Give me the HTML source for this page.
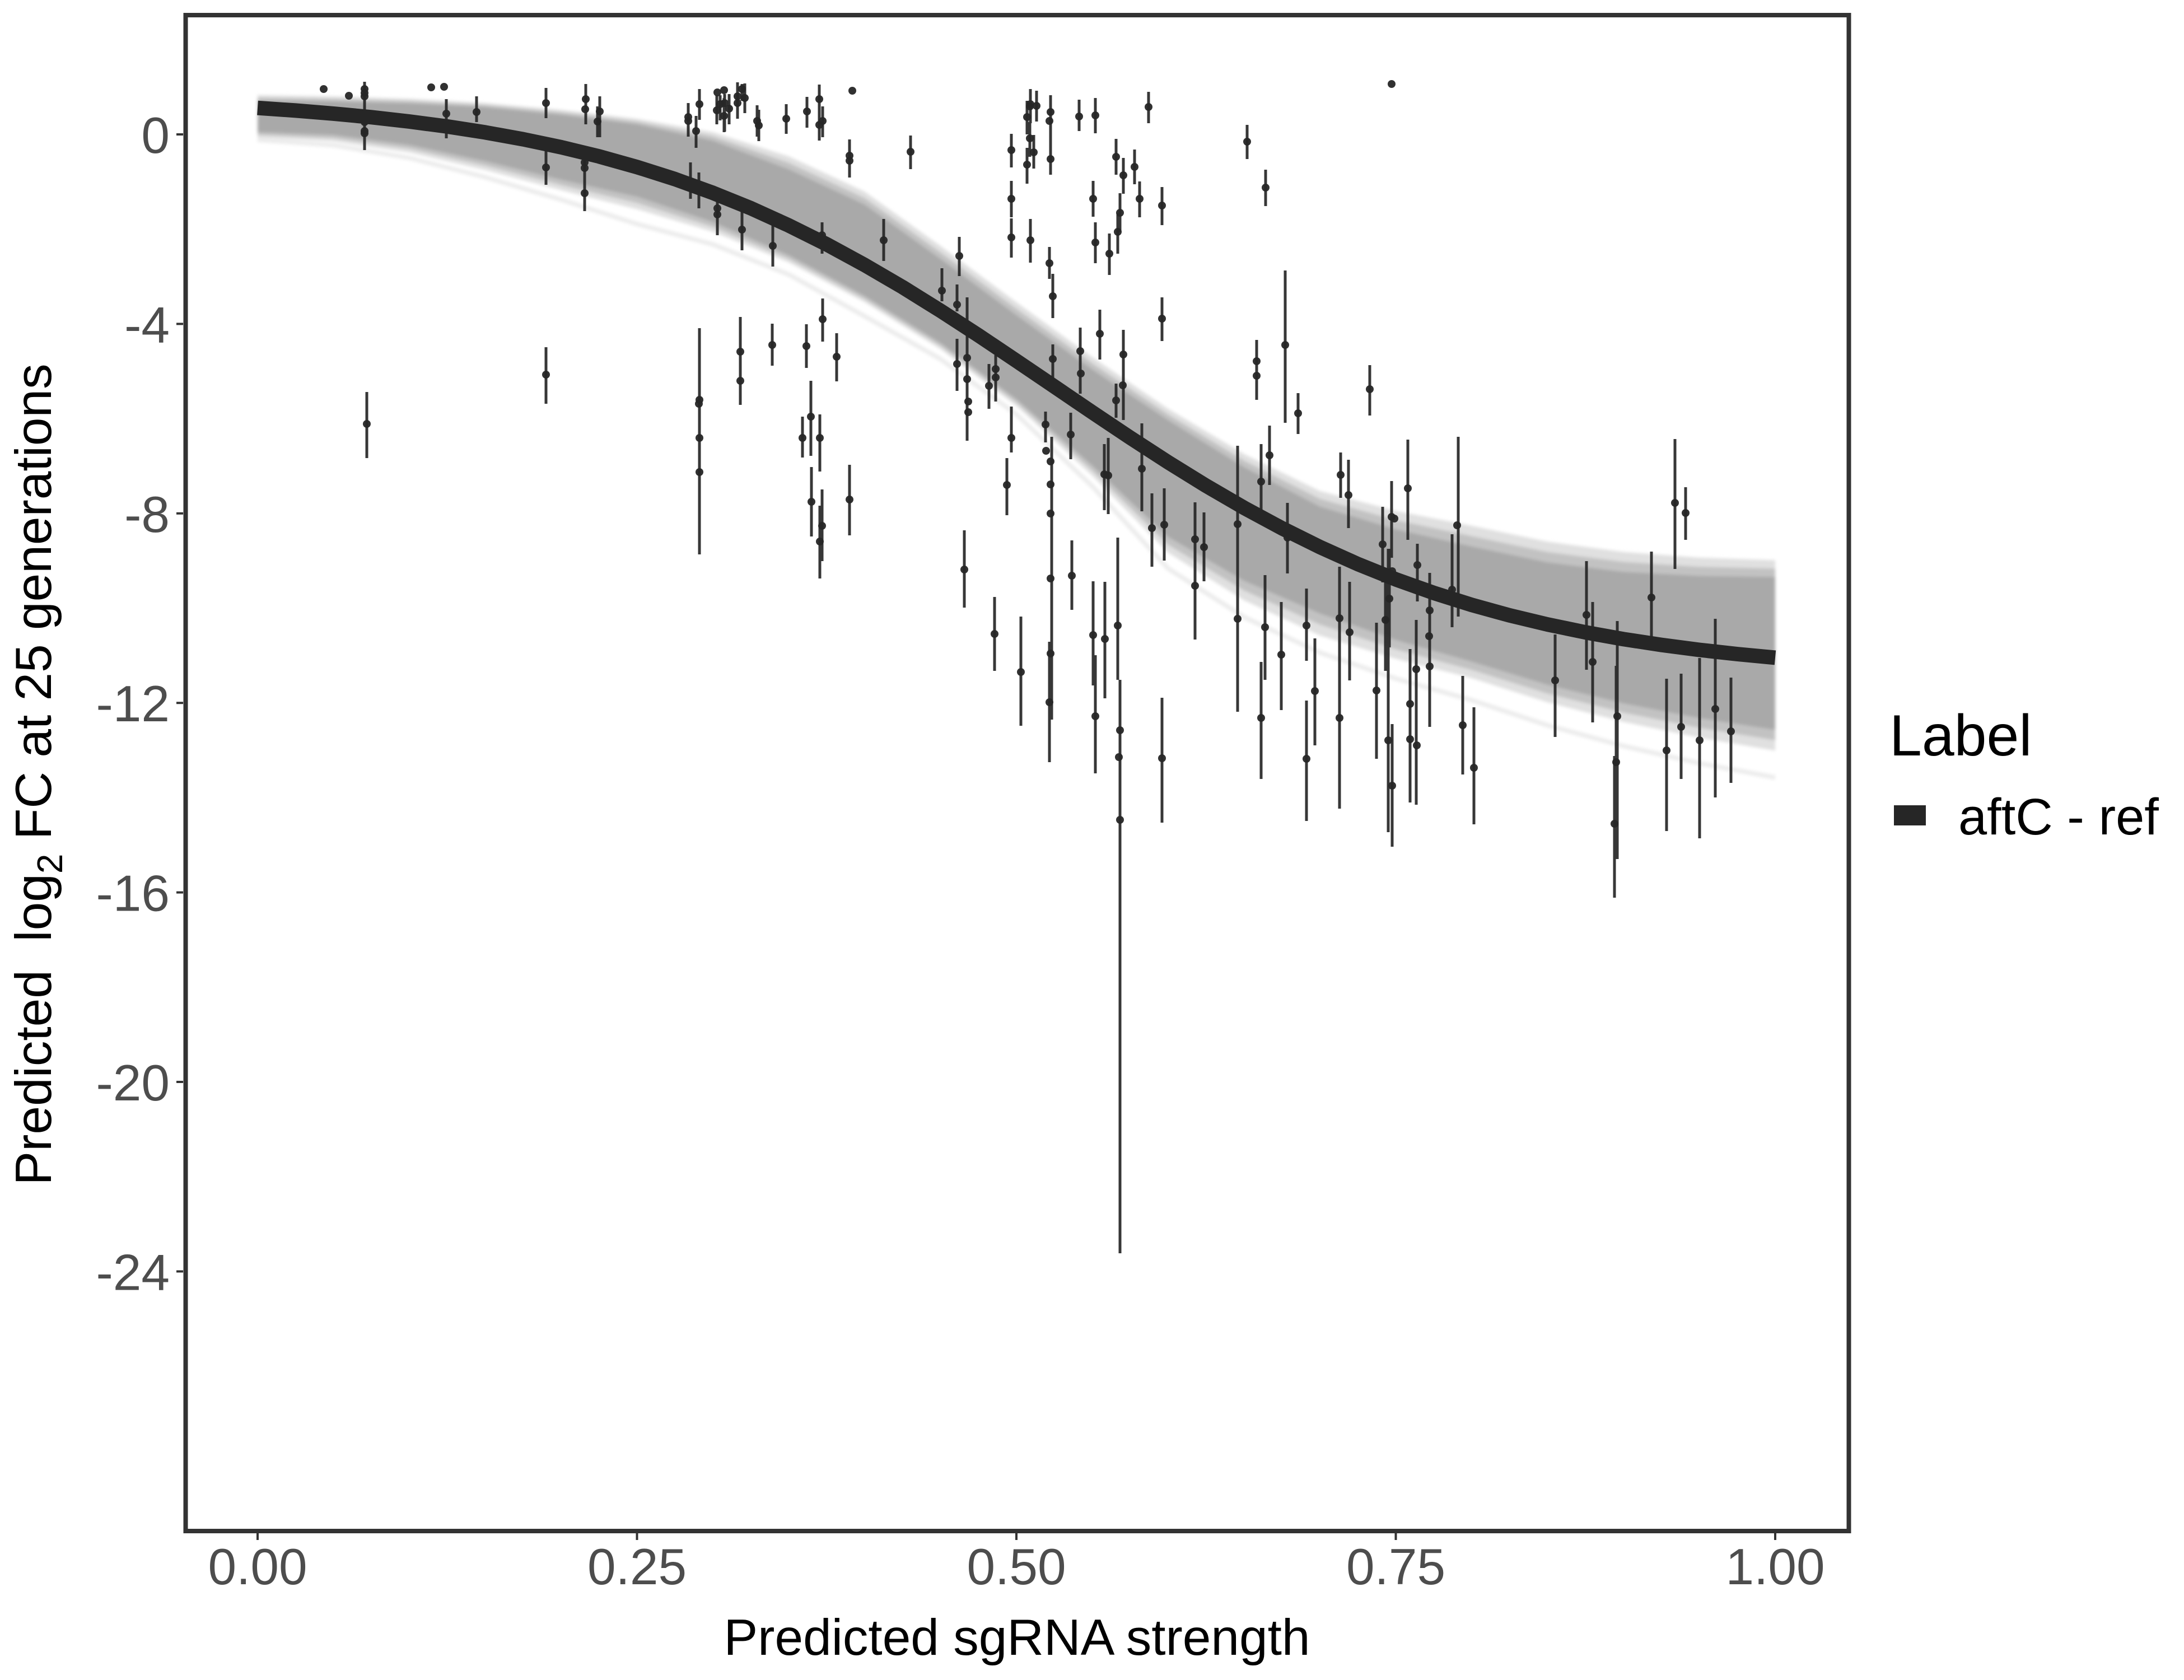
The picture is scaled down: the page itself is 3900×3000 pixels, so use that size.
<!DOCTYPE html>
<html>
<head>
<meta charset="utf-8">
<style>
  html, body { margin: 0; padding: 0; background: #ffffff; }
  svg { display: block; }
  text { font-family: "Liberation Sans", Arial, sans-serif; }
</style>
</head>
<body>
<svg width="3900" height="3000" viewBox="0 0 3900 3000" xmlns="http://www.w3.org/2000/svg">
  <defs>
    <filter id="soft" x="-5%" y="-5%" width="110%" height="110%">
      <feGaussianBlur stdDeviation="3"/>
    </filter>
  </defs>
  <rect x="0" y="0" width="3900" height="3000" fill="#ffffff"/>

  <!-- posterior band -->
  <g filter="url(#soft)">
  <polygon fill="#e0e0e0" points="460,169.7 595.5,172.1 731,176.1 866.5,183.8 1002,196 1137.5,212 1273,236 1408.5,279.3 1544,342.2 1679.5,439.3 1815,539.7 1950.5,637.8 2086,730 2221.5,810.8 2357,876.9 2492.5,912.3 2628,938.9 2763.5,967.3 2899,985.6 3034.5,995.7 3170,1000.4 3170,1340.4 3034.5,1317.3 2899,1289 2763.5,1254.1 2628,1210.9 2492.5,1176.4 2357,1134.8 2221.5,1071.9 2086,987 1950.5,849.5 1815,725 1679.5,623.4 1544,539.5 1408.5,468.6 1273,413.9 1137.5,373.5 1002,339.6 866.5,303.7 731,272.2 595.5,252.4 460,245.7"/>
  <polygon fill="#c2c2c2" points="460,174.7 595.5,176.8 731,180.4 866.5,187.6 1002,200.5 1137.5,217 1273,243.5 1408.5,290.8 1544,353.7 1679.5,450.8 1815,551.2 1950.5,648.9 2086,740.2 2221.5,822.5 2357,890.8 2492.5,928.8 2628,957.4 2763.5,985.8 2899,1003.4 3034.5,1012.1 3170,1015.4 3170,1321.9 3034.5,1299.8 2899,1272.5 2763.5,1238.5 2628,1196.2 2492.5,1159.6 2357,1115.2 2221.5,1054.5 2086,972.9 1950.5,840.4 1815,718.9 1679.5,617.9 1544,534 1408.5,462.2 1273,405.2 1137.5,362.4 1002,330.3 866.5,295.7 731,265.5 595.5,246.7 460,240.7"/>
  <polygon fill="#a9a9a9" points="460,179.7 595.5,181.4 731,184.6 866.5,191.4 1002,205 1137.5,222 1273,251.3 1408.5,302.3 1544,365.2 1679.5,462.3 1815,562.7 1950.5,659.9 2086,750.3 2221.5,834.2 2357,904.6 2492.5,945.2 2628,975.9 2763.5,1004.3 2899,1021.2 3034.5,1028.5 3170,1030.4 3170,1303.4 3034.5,1282.3 2899,1256 2763.5,1222.9 2628,1181.5 2492.5,1142.8 2357,1095.5 2221.5,1037.1 2086,958.7 1950.5,831.3 1815,712.8 1679.5,612.4 1544,528.5 1408.5,455.7 1273,396.4 1137.5,351.2 1002,320.9 866.5,287.7 731,258.7 595.5,240.9 460,235.7"/>
  <polyline fill="none" stroke="#ececec" stroke-width="8" stroke-linejoin="round" points="460,249.7 595.5,259.2 731,281.9 866.5,316.4 1002,356.5 1137.5,400 1273,436.4 1408.5,490.1 1544,564.6 1679.5,641.1 1815,739.8 1950.5,868.3 2086,1015.3 2221.5,1101.9 2357,1165.4 2492.5,1211.7 2628,1250.3 2763.5,1295.2 2899,1332.2 3034.5,1362.9 3170,1388.4"/>
  </g>

  <!-- error bars -->
  <path fill="none" stroke="#262626" stroke-opacity="0.92" stroke-width="5" d="
M651,146V268 M655,700V818 M797,177V247 M851,172V218 M975,157V211 M975,268V330 M975,620V721
M1046,150V222 M1044,280V377 M1071,172V245 M1067,190V245
M1229,184V244 M1249,159V214 M1243,207V264 M1280,170V222 M1286,170V215 M1294,168V235 M1293,175V236 M1302,168V222
M1317,147V212 M1325,150V180 M1330,149V202 M1352,188V244 M1355,196V252 M1404,186V239 M1441,173V228 M1463,151V205
M1463,189V251 M1469,190V245 M1517,249V317 M1626,242V302 M1233,290V355 M1248,308V372 M1281,354V420 M1325,375V447
M1380,402V476 M1468,397V453 M1578,391V466 M1713,423V493 M1682,479V538 M1709,508V556 M1727,531V787 M1709,605V698
M1766,650V730 M1778,634V717 M1806,726V808 M1806,239V299 M1806,323V388 M1806,390V460 M1840,391V469 M1840,159V220
M1834,180V240 M1839,218V280 M1846,241V301 M1834,264V328 M1851,162V217 M1876,170V312 M1874,441V498 M1880,489V568
M1880,615V680 M1867,735V790 M1878,780V1285 M1874,1146V1361 M1249,586V990 M1322,566V723 M1379,578V653 M1440,579V657
M1469,533V610 M1494,595V681 M1448,680V814 M1433,744V817 M1464,740V842 M1449,834V958 M1468,874V1002 M1464,903V1033
M1517,830V956 M1722,947V1085 M1798,818V920 M1776,1066V1198 M1823,1101V1296
M1927,178V234 M1956,175V238 M2051,164V220 M2227,223V284 M2260,303V368 M1993,248V312 M2006,282V346 M2026,267V329
M1952,323V387 M2035,324V388 M2000,345V414 M1996,381V453 M2075,334V402 M1956,397V470 M1981,417V491 M2075,531V609
M1964,553V642 M1929,585V703 M2006,589V750 M1993,685V746 M1912,737V820 M2039,756V913 M2244,607V714 M2295,483V755
M2318,702V775 M2446,652V742 M2267,760V866
M1972,793V911 M1979,782V918 M2057,881V1012 M2079,872V1001 M1914,965V1089 M2134,897V1142 M2150,915V1038 M2210,796V1271
M2252,793V913 M2299,898V1024 M2394,808V889 M2408,821V943 M2514,785V964 M2469,905V1040 M2485,859V996 M2481,980V1156
M2474,1019V1198 M2531,971V1074 M2593,954V1120 M2553,1023V1298 M1952,1038V1224 M1973,1039V1247 M1996,960V1214
M1956,1170V1381 M2000,1214V2238 M2075,1246V1469 M2259,1027V1214 M2252,1182V1391 M2288,1075V1268 M2333,1051V1180
M2348,1140V1331 M2333,1251V1466 M2392,1012V1198 M2392,1198V1444 M2410,1039V1215 M2458,1112V1355 M2479,980V1486
M2486,1293V1512 M2518,1159V1433 M2529,1107V1437
M2604,780V1101 M2991,784V1016 M3010,870V964 M2949,985V1138 M2833,1002V1196 M2844,1075V1290 M2777,1133V1316
M2888,1109V1534 M2886,1189V1443 M2883,1350V1603 M2612,1207V1383 M2632,1263V1472 M2976,1212V1484 M3002,1203V1391
M3035,1175V1497 M3063,1105V1424 M3091,1210V1398"/>

  <!-- points -->
  <g fill="#262626" fill-opacity="0.95">
    <circle cx="578" cy="159" r="7"/><circle cx="623" cy="171" r="7"/><circle cx="651" cy="159" r="7"/><circle cx="651" cy="166" r="7"/>
    <circle cx="651" cy="172" r="7"/><circle cx="651" cy="218" r="7"/><circle cx="651" cy="234" r="7"/><circle cx="651" cy="238" r="7"/>
    <circle cx="655" cy="757" r="7"/><circle cx="770" cy="156" r="7"/><circle cx="793" cy="155" r="7"/><circle cx="797" cy="203" r="7"/>
    <circle cx="851" cy="200" r="7"/><circle cx="975" cy="184" r="7"/><circle cx="975" cy="299" r="7"/><circle cx="975" cy="669" r="7"/>
    <circle cx="1046" cy="177" r="7"/><circle cx="1045" cy="195" r="7"/><circle cx="1044" cy="290" r="7"/><circle cx="1044" cy="300" r="7"/>
    <circle cx="1044" cy="345" r="7"/><circle cx="1071" cy="199" r="7"/><circle cx="1067" cy="217" r="7"/>
    <circle cx="1229" cy="209" r="7"/><circle cx="1229" cy="216" r="7"/><circle cx="1249" cy="186" r="7"/><circle cx="1243" cy="234" r="7"/>
    <circle cx="1281" cy="165" r="7"/><circle cx="1293" cy="161" r="7"/><circle cx="1280" cy="197" r="7"/><circle cx="1286" cy="186" r="7"/>
    <circle cx="1294" cy="184" r="7"/><circle cx="1293" cy="207" r="7"/><circle cx="1302" cy="194" r="7"/><circle cx="1317" cy="172" r="7"/>
    <circle cx="1317" cy="184" r="7"/><circle cx="1325" cy="159" r="7"/><circle cx="1330" cy="175" r="7"/><circle cx="1352" cy="216" r="7"/>
    <circle cx="1355" cy="224" r="7"/><circle cx="1404" cy="212" r="7"/><circle cx="1441" cy="199" r="7"/><circle cx="1463" cy="177" r="7"/>
    <circle cx="1463" cy="223" r="7"/><circle cx="1469" cy="216" r="7"/><circle cx="1522" cy="162" r="7"/><circle cx="1517" cy="278" r="7"/>
    <circle cx="1517" cy="287" r="7"/><circle cx="1626" cy="271" r="7"/><circle cx="1233" cy="324" r="7"/><circle cx="1248" cy="330" r="7"/>
    <circle cx="1281" cy="372" r="7"/><circle cx="1281" cy="383" r="7"/><circle cx="1325" cy="410" r="7"/><circle cx="1380" cy="439" r="7"/>
    <circle cx="1468" cy="420" r="7"/><circle cx="1578" cy="429" r="7"/><circle cx="1713" cy="457" r="7"/><circle cx="1682" cy="519" r="7"/>
    <circle cx="1709" cy="544" r="7"/><circle cx="1727" cy="639" r="7"/><circle cx="1727" cy="677" r="7"/><circle cx="1729" cy="717" r="7"/>
    <circle cx="1729" cy="736" r="7"/><circle cx="1709" cy="650" r="7"/><circle cx="1766" cy="689" r="7"/><circle cx="1778" cy="659" r="7"/>
    <circle cx="1778" cy="674" r="7"/><circle cx="1806" cy="782" r="7"/><circle cx="1806" cy="268" r="7"/><circle cx="1806" cy="355" r="7"/>
    <circle cx="1806" cy="424" r="7"/><circle cx="1840" cy="429" r="7"/><circle cx="1840" cy="186" r="7"/><circle cx="1839" cy="190" r="7"/>
    <circle cx="1834" cy="209" r="7"/><circle cx="1839" cy="247" r="7"/><circle cx="1846" cy="272" r="7"/><circle cx="1834" cy="294" r="7"/>
    <circle cx="1851" cy="189" r="7"/><circle cx="1876" cy="200" r="7"/><circle cx="1874" cy="216" r="7"/><circle cx="1876" cy="284" r="7"/>
    <circle cx="1874" cy="470" r="7"/><circle cx="1880" cy="529" r="7"/><circle cx="1880" cy="641" r="7"/><circle cx="1867" cy="758" r="7"/>
    <circle cx="1868" cy="805" r="7"/><circle cx="1876" cy="824" r="7"/><circle cx="1876" cy="865" r="7"/><circle cx="1876" cy="917" r="7"/>
    <circle cx="1876" cy="1033" r="7"/><circle cx="1876" cy="1167" r="7"/><circle cx="1874" cy="1254" r="7"/>
    <circle cx="1249" cy="714" r="7"/><circle cx="1248" cy="721" r="7"/><circle cx="1249" cy="782" r="7"/><circle cx="1249" cy="843" r="7"/>
    <circle cx="1322" cy="628" r="7"/><circle cx="1322" cy="680" r="7"/><circle cx="1379" cy="616" r="7"/><circle cx="1440" cy="618" r="7"/>
    <circle cx="1469" cy="570" r="7"/><circle cx="1494" cy="637" r="7"/><circle cx="1448" cy="744" r="7"/><circle cx="1433" cy="782" r="7"/>
    <circle cx="1464" cy="782" r="7"/><circle cx="1449" cy="896" r="7"/><circle cx="1468" cy="939" r="7"/><circle cx="1464" cy="967" r="7"/>
    <circle cx="1517" cy="892" r="7"/><circle cx="1722" cy="1017" r="7"/><circle cx="1798" cy="866" r="7"/><circle cx="1776" cy="1132" r="7"/>
    <circle cx="1823" cy="1200" r="7"/>
    <circle cx="1927" cy="208" r="7"/><circle cx="1956" cy="206" r="7"/><circle cx="2051" cy="191" r="7"/><circle cx="2485" cy="150" r="7"/>
    <circle cx="2227" cy="253" r="7"/><circle cx="2260" cy="335" r="7"/><circle cx="1993" cy="280" r="7"/><circle cx="2006" cy="313" r="7"/>
    <circle cx="2026" cy="298" r="7"/><circle cx="1952" cy="355" r="7"/><circle cx="2035" cy="355" r="7"/><circle cx="2000" cy="380" r="7"/>
    <circle cx="1996" cy="414" r="7"/><circle cx="2075" cy="367" r="7"/><circle cx="1956" cy="433" r="7"/><circle cx="1981" cy="453" r="7"/>
    <circle cx="2075" cy="569" r="7"/><circle cx="1964" cy="596" r="7"/><circle cx="1929" cy="627" r="7"/><circle cx="1930" cy="667" r="7"/>
    <circle cx="2006" cy="633" r="7"/><circle cx="2005" cy="688" r="7"/><circle cx="1993" cy="715" r="7"/><circle cx="1912" cy="776" r="7"/>
    <circle cx="2039" cy="837" r="7"/><circle cx="2244" cy="645" r="7"/><circle cx="2244" cy="671" r="7"/><circle cx="2295" cy="616" r="7"/>
    <circle cx="2318" cy="738" r="7"/><circle cx="2446" cy="695" r="7"/><circle cx="2267" cy="813" r="7"/>
    <circle cx="1972" cy="847" r="7"/><circle cx="1979" cy="849" r="7"/><circle cx="2057" cy="943" r="7"/><circle cx="2079" cy="937" r="7"/>
    <circle cx="1914" cy="1028" r="7"/><circle cx="2134" cy="963" r="7"/><circle cx="2134" cy="1046" r="7"/><circle cx="2150" cy="977" r="7"/>
    <circle cx="2210" cy="936" r="7"/><circle cx="2210" cy="1105" r="7"/><circle cx="2252" cy="860" r="7"/><circle cx="2299" cy="960" r="7"/>
    <circle cx="2394" cy="848" r="7"/><circle cx="2408" cy="884" r="7"/><circle cx="2514" cy="872" r="7"/><circle cx="2469" cy="972" r="7"/>
    <circle cx="2485" cy="923" r="7"/><circle cx="2490" cy="926" r="7"/><circle cx="2486" cy="1020" r="7"/><circle cx="2481" cy="1069" r="7"/>
    <circle cx="2474" cy="1107" r="7"/><circle cx="2531" cy="1009" r="7"/><circle cx="2593" cy="1053" r="7"/><circle cx="2602" cy="938" r="7"/>
    <circle cx="2553" cy="1090" r="7"/><circle cx="2552" cy="1136" r="7"/><circle cx="2553" cy="1190" r="7"/><circle cx="1952" cy="1134" r="7"/>
    <circle cx="1973" cy="1141" r="7"/><circle cx="1996" cy="1117" r="7"/><circle cx="1956" cy="1279" r="7"/><circle cx="2000" cy="1304" r="7"/>
    <circle cx="1998" cy="1352" r="7"/><circle cx="2000" cy="1464" r="7"/><circle cx="2075" cy="1354" r="7"/><circle cx="2259" cy="1120" r="7"/>
    <circle cx="2252" cy="1282" r="7"/><circle cx="2288" cy="1169" r="7"/><circle cx="2333" cy="1117" r="7"/><circle cx="2348" cy="1234" r="7"/>
    <circle cx="2333" cy="1355" r="7"/><circle cx="2392" cy="1104" r="7"/><circle cx="2392" cy="1282" r="7"/><circle cx="2410" cy="1129" r="7"/>
    <circle cx="2458" cy="1233" r="7"/><circle cx="2479" cy="1322" r="7"/><circle cx="2486" cy="1403" r="7"/><circle cx="2518" cy="1257" r="7"/>
    <circle cx="2518" cy="1320" r="7"/><circle cx="2529" cy="1195" r="7"/><circle cx="2530" cy="1331" r="7"/>
    <circle cx="2991" cy="898" r="7"/><circle cx="3010" cy="916" r="7"/><circle cx="2949" cy="1067" r="7"/><circle cx="2833" cy="1098" r="7"/>
    <circle cx="2844" cy="1182" r="7"/><circle cx="2777" cy="1215" r="7"/><circle cx="2888" cy="1279" r="7"/><circle cx="2886" cy="1361" r="7"/>
    <circle cx="2883" cy="1471" r="7"/><circle cx="2612" cy="1295" r="7"/><circle cx="2632" cy="1371" r="7"/><circle cx="2976" cy="1340" r="7"/>
    <circle cx="3002" cy="1298" r="7"/><circle cx="3035" cy="1322" r="7"/><circle cx="3063" cy="1266" r="7"/><circle cx="3091" cy="1306" r="7"/>
  </g>

  <!-- fitted curve -->
  <polyline fill="none" stroke="#262626" stroke-width="26" stroke-linejoin="round" points="460,192.7 527.75,197.4 595.5,202.9 663.25,209.3 731,217 798.75,225.9 866.5,236.4 934.25,248.7 1002,262.9 1069.75,279.3 1137.5,298.3 1205.25,319.8 1273,344.4 1340.75,371.8 1408.5,402.6 1476.25,436.3 1544,473.2 1611.75,512.7 1679.5,554.9 1747.25,598.8 1815,644.3 1882.75,690.2 1950.5,736.3 2018.25,781.6 2086,825.5 2153.75,867.4 2221.5,906.8 2289.25,943.3 2357,976.9 2424.75,1007.3 2492.5,1034.6 2560.25,1058.8 2628,1080.2 2695.75,1098.9 2763.5,1115.1 2831.25,1129.2 2899,1141.3 2966.75,1151.6 3034.5,1160.5 3102.25,1168 3170,1174.4"/>

  <!-- panel border -->
  <rect x="331.5" y="27" width="2970" height="2707" fill="none" stroke="#333333" stroke-width="8"/>

  <!-- ticks -->
  <g stroke="#333333" stroke-width="4">
    <line x1="460" y1="2738" x2="460" y2="2750"/>
    <line x1="1137.5" y1="2738" x2="1137.5" y2="2750"/>
    <line x1="1815" y1="2738" x2="1815" y2="2750"/>
    <line x1="2492.5" y1="2738" x2="2492.5" y2="2750"/>
    <line x1="3170" y1="2738" x2="3170" y2="2750"/>
    <line x1="315" y1="240" x2="327" y2="240"/>
    <line x1="315" y1="578.4" x2="327" y2="578.4"/>
    <line x1="315" y1="916.8" x2="327" y2="916.8"/>
    <line x1="315" y1="1255.2" x2="327" y2="1255.2"/>
    <line x1="315" y1="1593.6" x2="327" y2="1593.6"/>
    <line x1="315" y1="1932" x2="327" y2="1932"/>
    <line x1="315" y1="2270.4" x2="327" y2="2270.4"/>
  </g>

  <!-- y tick labels -->
  <g fill="#4d4d4d" font-size="91" text-anchor="end">
    <text x="303" y="273">0</text>
    <text x="303" y="611.4">-4</text>
    <text x="303" y="949.8">-8</text>
    <text x="303" y="1288.2">-12</text>
    <text x="303" y="1626.6">-16</text>
    <text x="303" y="1965">-20</text>
    <text x="303" y="2303.4">-24</text>
  </g>

  <!-- x tick labels -->
  <g fill="#4d4d4d" font-size="91" text-anchor="middle">
    <text x="460" y="2829">0.00</text>
    <text x="1137.5" y="2829">0.25</text>
    <text x="1815" y="2829">0.50</text>
    <text x="2492.5" y="2829">0.75</text>
    <text x="3170" y="2829">1.00</text>
  </g>

  <!-- axis titles -->
  <text x="1816" y="2955" font-size="91" fill="#000000" text-anchor="middle">Predicted sgRNA strength</text>
  <text transform="translate(91,1383) rotate(-90)" font-size="91" fill="#000000" text-anchor="middle">Predicted&#160;&#160;log<tspan font-size="64" dy="20">2</tspan><tspan dy="-20">&#160;FC at 25 generations</tspan></text>

  <!-- legend -->
  <text x="3374" y="1349" font-size="104" fill="#000000">Label</text>
  <rect x="3382" y="1438" width="57" height="36" fill="#262626"/>
  <text x="3497" y="1490" font-size="92" fill="#000000">aftC - ref</text>
</svg>
</body>
</html>
